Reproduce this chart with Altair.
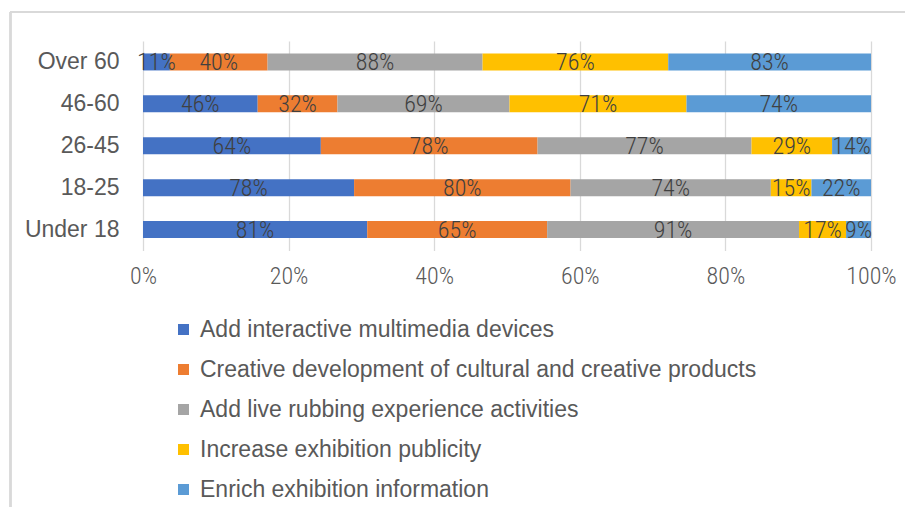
import altair as alt
import pandas as pd

ages = ["Over 60", "46-60", "26-45", "18-25", "Under 18"]
series = [
    "Add interactive multimedia devices",
    "Creative development of cultural and creative products",
    "Add live rubbing experience activities",
    "Increase exhibition publicity",
    "Enrich exhibition information",
]
colors = ["#4472C4", "#ED7D31", "#A5A5A5", "#FFC000", "#5B9BD5"]

s_multimedia = [11, 46, 64, 78, 81]
s_creative = [40, 32, 78, 80, 65]
s_rubbing = [88, 69, 77, 74, 91]
s_publicity = [76, 71, 29, 15, 17]
s_information = [83, 74, 14, 22, 9]

tick_values = [0, 0.2, 0.4, 0.6, 0.8, 1.0]

rows = []
for si, (name, vals) in enumerate(zip(series, [s_multimedia, s_creative, s_rubbing, s_publicity, s_information])):
    for age, v in zip(ages, vals):
        rows.append({"age": age, "series": name, "idx": si, "value": v, "label": f"{v}%"})
df = pd.DataFrame(rows)

TEXT = "#595959"
GRID = "#D9D9D9"
NUM_FONT = "Liberation Sans Narrow, Roboto Condensed, DejaVu Sans Condensed, Liberation Sans"
TXT_FONT = "Liberation Sans, Arial, sans-serif"

x_axis = alt.Axis(values=tick_values, format=".0%", domain=False, ticks=False, grid=True,
                  gridColor=GRID, gridWidth=1.3, labelFont=NUM_FONT, labelFontSize=24,
                  labelFontWeight=300, labelFlush=False,
                  labelColor=TEXT, labelPadding=14, title=None)
y_axis = alt.Axis(domain=False, ticks=False, labelFont=TXT_FONT, labelFontSize=23,
                  labelColor=TEXT, labelPadding=24, title=None, grid=False)
x_scale = alt.Scale(domain=[0, 1], nice=False)
y_scale = alt.Scale(paddingInner=0, paddingOuter=0)

base = alt.Chart(df)

bars = base.mark_bar(size=17).encode(
    x=alt.X("value:Q", stack="normalize", scale=x_scale, axis=x_axis),
    y=alt.Y("age:N", sort=ages, scale=y_scale, axis=y_axis),
    color=alt.Color("series:N", sort=series,
                    scale=alt.Scale(domain=series, range=colors),
                    legend=alt.Legend(title=None, orient="none", legendX=29, legendY=277,
                                      direction="vertical", symbolType="square",
                                      symbolSize=121, symbolStrokeWidth=0,
                                      labelFont=TXT_FONT, labelFontSize=23,
                                      labelColor=TEXT, labelOffset=5, labelLimit=900,
                                      rowPadding=16, padding=0)),
    order=alt.Order("idx:Q"),
)

labels = base.transform_joinaggregate(
    total="sum(value)", groupby=["age"]
).transform_window(
    cum="sum(value)", groupby=["age"], sort=[alt.SortField("idx")],
    frame=[None, 0]
).transform_calculate(
    mid="(datum.cum - datum.value / 2) / datum.total"
).mark_text(font=NUM_FONT, fontSize=24, fontWeight=300, color="#404040",
            baseline="middle", align="center", dy=1).encode(
    x=alt.X("mid:Q", scale=x_scale, axis=x_axis),
    y=alt.Y("age:N", sort=ages, scale=y_scale, axis=y_axis),
    text="label:N",
)

frame_top = base.mark_rule(color=GRID, strokeWidth=1.5).encode(
    x=alt.value(-133), x2=alt.value(780), y=alt.value(-29), y2=alt.value(-29)
)
frame_left = base.mark_rule(color=GRID, strokeWidth=1.5).encode(
    x=alt.value(-132.5), x2=alt.value(-132.5), y=alt.value(-29), y2=alt.value(480)
)

chart = alt.layer(frame_top, frame_left, bars, labels).properties(
    width=728, height=209.5,
    padding={"left": 135, "top": 33, "right": 34, "bottom": 256},
    autosize=alt.AutoSizeParams(type="none"),
    background="white",
).configure_view(stroke=None)

chart.save("out.html", embed_options={"renderer": "svg", "actions": False})
